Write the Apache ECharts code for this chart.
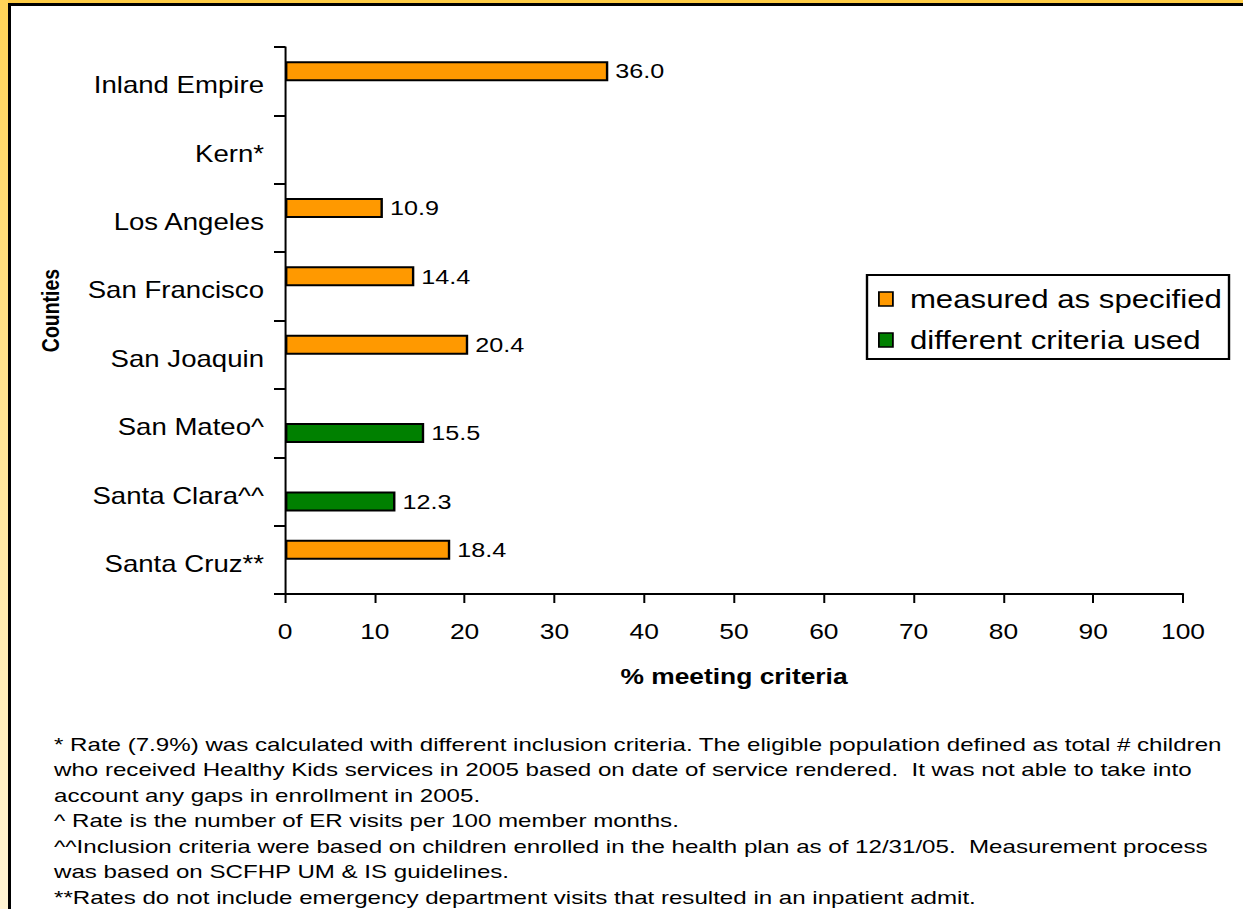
<!DOCTYPE html>
<html>
<head>
<meta charset="utf-8">
<title>Healthy Kids ER visits by county</title>
<script src="https://cdn.jsdelivr.net/npm/echarts@6/dist/echarts.min.js"></script>
<style>
  html, body { margin: 0; padding: 0; background: #ffffff; }
  #page { position: relative; width: 1243px; height: 909px; overflow: hidden; background: #ffffff; }
  #bandTop { position: absolute; left: 0; top: 0; width: 1243px; height: 3px; background: #ffcc44; }
  #bandLeft { position: absolute; left: 0; top: 0; width: 8px; height: 909px;
              background: linear-gradient(#ffd458, #ffe9a6 60%, #fff4d4); }
  #ruleTop { position: absolute; left: 8px; top: 3px; width: 1235px; height: 3px; background: #000; }
  #ruleLeft { position: absolute; left: 8px; top: 3px; width: 3px; height: 906px; background: #000; }
  /* the chart is laid out 1036px wide and widened to the full 1243px,
     giving the broad lettering of the printed report */
  #chart { position: absolute; left: 0; top: 0; width: 1036px; height: 909px;
           transform: scaleX(1.19981); transform-origin: 0 0; }
</style>
</head>
<body>
<div id="page">
  <div id="bandTop"></div>
  <div id="bandLeft"></div>
  <div id="ruleTop"></div>
  <div id="ruleLeft"></div>
  <div id="chart"></div>
</div>
<script>
// Counties, top to bottom
const counties = [
  'Inland Empire', 'Kern*', 'Los Angeles', 'San Francisco',
  'San Joaquin', 'San Mateo^', 'Santa Clara^^', 'Santa Cruz**'
];

// % meeting criteria, measured as specified (Kern reported separately in the notes)
const measuredAsSpecified = [36.0, null, 10.9, 14.4, 20.4, null, null, 18.4];

// % meeting criteria, where different criteria were used
const differentCriteria = [null, null, null, null, null, 15.5, 12.3, null];

const seriesNames = ['measured as specified', 'different criteria used'];
const seriesColors = ['#ff9900', '#008000'];

// value axis ticks
const xMin = 0;
const xMax = 100;
const xStep = 10;

const footnotes = [
  '* Rate (7.9%) was calculated with different inclusion criteria. The eligible population defined as total # children',
  'who received Healthy Kids services in 2005 based on date of service rendered.  It was not able to take into',
  'account any gaps in enrollment in 2005.',
  '^ Rate is the number of ER visits per 100 member months.',
  '^^Inclusion criteria were based on children enrolled in the health plan as of 12/31/05.  Measurement process',
  'was based on SCFHP UM & IS guidelines.',
  '**Rates do not include emergency department visits that resulted in an inpatient admit.'
];

const FONT = "'Liberation Sans', Arial, sans-serif";

// horizontal widening applied to the chart box (see #chart)
const STRETCH = 1243 / 1036;
const hx = v => v / STRETCH;          // page x -> chart x
const THIN = 2 / STRETCH;             // 2px on the page for vertical strokes

const noteFirst = 745;
const noteStep = 25.5;

const chart = echarts.init(document.getElementById('chart'), null, { renderer: 'svg' });

function barSeries(idx, values) {
  return {
    name: seriesNames[idx],
    type: 'bar',
    data: values,
    barWidth: 20,
    barGap: '0%',
    itemStyle: { color: seriesColors[idx], borderColor: '#000', borderWidth: 2 },
    label: {
      show: true,
      position: 'right',
      distance: hx(7),
      color: '#000',
      fontFamily: FONT,
      fontSize: 21,
      formatter: p => (p.value == null ? '' : Number(p.value).toFixed(1))
    },
    emphasis: { disabled: true },
    animation: false
  };
}

chart.setOption({
  backgroundColor: 'transparent',
  animation: false,
  textStyle: { fontFamily: FONT, color: '#000' },
  grid: { left: hx(285), right: hx(60), top: 47, bottom: 315, containLabel: false },
  legend: {
    orient: 'vertical',
    left: hx(867),
    top: 275,
    padding: [9, hx(7), 4, hx(11)],
    itemGap: 11,
    itemWidth: hx(14),
    itemHeight: 14,
    icon: 'rect',
    selectedMode: false,
    borderColor: '#000',
    borderWidth: 2,
    backgroundColor: '#fff',
    itemStyle: { borderColor: '#000', borderWidth: 1.5 },
    textStyle: { fontFamily: FONT, fontSize: 26, color: '#000', lineHeight: 30, padding: [0, 0, 0, hx(17) - 5] },
    data: seriesNames
  },
  xAxis: {
    type: 'value',
    min: xMin,
    max: xMax,
    interval: xStep,
    splitLine: { show: false },
    axisLine: { show: true, lineStyle: { color: '#000', width: 2 } },
    axisTick: { show: true, length: 9, lineStyle: { color: '#000', width: THIN } },
    axisLabel: { color: '#000', fontFamily: FONT, fontSize: 22, margin: 26 },
    name: '% meeting criteria',
    nameLocation: 'middle',
    nameGap: 71,
    nameTextStyle: { fontFamily: FONT, fontSize: 22, fontWeight: 'bold', color: '#000' }
  },
  yAxis: {
    type: 'category',
    inverse: true,
    data: counties,
    axisLine: { show: true, lineStyle: { color: '#000', width: THIN } },
    axisTick: { show: true, length: hx(11), lineStyle: { color: '#000', width: 2 } },
    // labels sit a few pixels below the band centre
    axisLabel: { color: '#000', fontFamily: FONT, fontSize: 23, margin: hx(21),
                 verticalAlign: 'top', lineHeight: 8 },
    name: 'Counties',
    nameLocation: 'middle',
    nameRotate: 90,
    nameGap: hx(222),
    nameTextStyle: { fontFamily: FONT, fontSize: 19.5, fontWeight: 'bold', color: '#000', padding: [0, 0, 0, 20] }
  },
  graphic: footnotes.map((t, i) => ({
    type: 'text',
    x: hx(54),
    y: noteFirst + i * noteStep,
    scaleX: 1.34 / STRETCH,
    silent: true,
    style: { text: t, font: '18px ' + FONT, fill: '#000', verticalAlign: 'middle' }
  })),
  series: [barSeries(0, measuredAsSpecified), barSeries(1, differentCriteria)]
});
</script>
</body>
</html>
